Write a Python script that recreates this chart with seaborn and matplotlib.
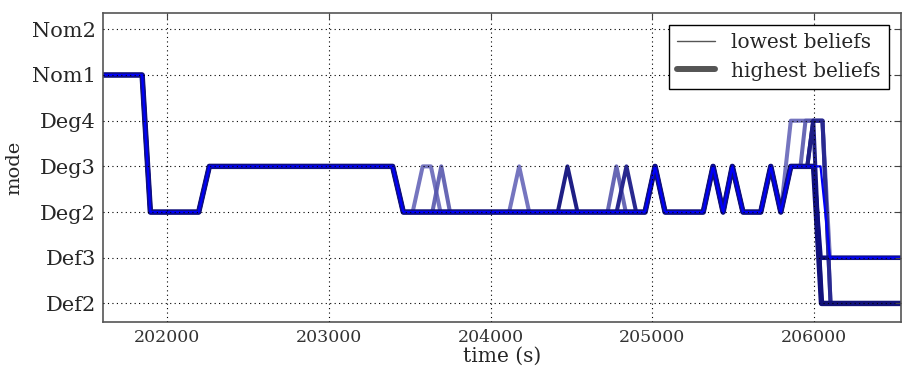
import matplotlib
matplotlib.use("Agg")
import matplotlib.pyplot as plt
from matplotlib.lines import Line2D
import seaborn as sns
import pandas as pd

# ---- data ----
MODES = ["Def2", "Def3", "Deg2", "Deg3", "Deg4", "Nom1", "Nom2"]

# shared start of every trajectory
base_t = [201600, 201844, 201895, 202194, 202260, 203394, 203460]
base_m = ["Nom1", "Nom1", "Deg2", "Deg2", "Deg3", "Deg3", "Deg2"]

# shared late spikes
late_t = [204956, 205018, 205080, 205316, 205377, 205439, 205496, 205562,
          205672, 205734, 205796]
late_m = ["Deg2", "Deg3", "Deg2", "Deg2", "Deg3", "Deg2", "Deg3", "Deg2",
          "Deg2", "Deg3", "Deg2"]

# per-trajectory middle parts
mid_a_t = [203518, 203580, 203631, 203690, 204115, 204177, 204239]
mid_a_m = ["Deg2", "Deg3", "Deg3", "Deg2", "Deg2", "Deg3", "Deg2"]
mid_f_t = [203640, 203695, 203749, 204724, 204779, 204837]
mid_f_m = ["Deg2", "Deg3", "Deg2", "Deg2", "Deg3", "Deg2"]
mid_b_t = [204416, 204476, 204538]
mid_b_m = ["Deg2", "Deg3", "Deg2"]
mid_c_t = [204780, 204841, 204901]
mid_c_m = ["Deg2", "Deg3", "Deg2"]

# per-trajectory endings
end_a_t = [205858, 206054, 206100, 206540]
end_a_m = ["Deg4", "Deg4", "Def3", "Def3"]
end_f_t = [205858, 205918, 205949, 206054, 206104, 206540]
end_f_m = ["Deg3", "Deg3", "Deg4", "Deg4", "Def2", "Def2"]
end_c_t = [205858, 205960, 205997, 206054, 206104, 206540]
end_c_m = ["Deg3", "Deg3", "Deg4", "Deg4", "Def2", "Def2"]
end_b_t = [205858, 205960, 205997, 206048, 206540]
end_b_m = ["Deg3", "Deg3", "Deg4", "Def2", "Def2"]
end_g_t = [205858, 205999, 206048, 206540]
end_g_m = ["Deg3", "Deg3", "Def2", "Def2"]
end_e_t = [205858, 205999, 206042, 206540]
end_e_m = ["Deg3", "Deg3", "Def3", "Def3"]
end_d_t = [205858, 206042, 206100, 206540]
end_d_m = ["Deg3", "Deg3", "Def3", "Def3"]

trajectories = [
    ("a", mid_a_t, mid_a_m, end_a_t, end_a_m),
    ("f", mid_f_t, mid_f_m, end_f_t, end_f_m),
    ("c", mid_c_t, mid_c_m, end_c_t, end_c_m),
    ("b", mid_b_t, mid_b_m, end_b_t, end_b_m),
    ("g", [], [], end_g_t, end_g_m),
    ("e", [], [], end_e_t, end_e_m),
    ("d", [], [], end_d_t, end_d_m),
]

styles = {
    "a": dict(color=(0.40, 0.40, 0.72), lw=2.9, alpha=0.9),
    "f": dict(color=(0.34, 0.34, 0.68), lw=2.9, alpha=0.9),
    "c": dict(color=(0.16, 0.16, 0.56), lw=2.9, alpha=1.0),
    "b": dict(color=(0.12, 0.12, 0.52), lw=2.9, alpha=1.0),
    "g": dict(color=(0.07, 0.07, 0.48), lw=3.9, alpha=1.0),
    "e": dict(color=(0.06, 0.06, 0.50), lw=3.3, alpha=1.0),
    "d": dict(color=(0.0, 0.0, 0.98), lw=1.6, alpha=1.0),
}

# ---- figure ----
sns.set_style("white")
plt.rcParams["font.family"] = ["DejaVu Serif"]

fig = plt.figure(figsize=(9.04, 3.74), dpi=100)
ax = fig.add_axes([0.1136, 0.1398, 0.8831, 0.8246])

for key, mt, mm, et, em in trajectories:
    t = base_t + mt + late_t + et
    m = base_m + mm + late_m + em
    df = pd.DataFrame({"time": t, "mode": [MODES.index(v) for v in m]})
    st = styles[key]
    sns.lineplot(data=df, x="time", y="mode", ax=ax, estimator=None, sort=False,
                 color=st["color"], linewidth=st["lw"], alpha=st["alpha"])

ax.set_xlim(201600, 206540)
ax.set_ylim(-0.4, 6.35)
ax.set_yticks(range(len(MODES)))
ax.set_yticklabels(MODES, fontsize=15)
ax.set_xticks([202000, 203000, 204000, 205000, 206000])
ax.set_xticklabels(["202000", "203000", "204000", "205000", "206000"], fontsize=12.5,
                   color="#333333")
ax.set_xlabel("time (s)", fontsize=14.5, labelpad=1)
ax.set_ylabel("mode", fontsize=14, labelpad=6)

ax.set_axisbelow(False)
ax.grid(True, linestyle=(0, (1.0, 3.0)), color="black", linewidth=0.8)
ax.tick_params(direction="in", length=4, top=True, right=True, pad=5,
               color="#444444")
for s in ax.spines.values():
    s.set_color("#555555")
    s.set_linewidth(1.2)

handles = [Line2D([], [], color="#555555", lw=1.0),
           Line2D([], [], color="#555555", lw=4.3)]
leg = ax.legend(handles, ["lowest beliefs", "highest beliefs"], loc="upper right",
                fontsize=14.5, frameon=True, fancybox=False, framealpha=1,
                edgecolor="black", handlelength=1.9, labelspacing=0.45,
                borderaxespad=0.6)
leg.get_frame().set_linewidth(1.0)

fig.savefig("out.png", dpi=100)
